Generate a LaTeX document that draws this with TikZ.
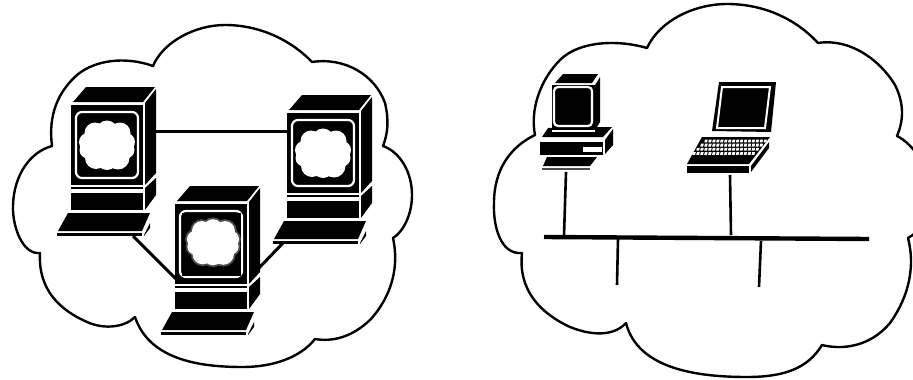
\documentclass[tikz,border=0pt]{standalone}
\newcommand{\blob}[1]{%
  \foreach \a/\b/\r in {0/-14/10.5,-12/-12/10.5,13/-12/10.5,-19/-3/9,19/-3/9,-19/5/8.5,19/5/8.5,-11/13/11,11/13/11.5,0/14/11,0/0/19}{
    \path[blobfill] (\a,\b) circle[radius=\r+#1];}}
\tikzset{
  x=1pt,y=-1pt,
  cloudline/.style={draw=black,line width=2.4pt,line cap=round,line join=miter},
  wire/.style={draw=black,line width=3pt},
  thinwire/.style={draw=black,line width=2.6pt},
  bus/.style={draw=black,line width=4.4pt},
  solid black/.style={fill=black,draw=none},
  ring/.style={draw=white,line width=2.2pt,rounded corners=6pt},
  blobfill/.style={fill=white},
  server/.pic={
    \path[solid black] (2,-3)--(15,-18)--(84,-18)--(72,-3)--cycle;
    \path[solid black] (0,0) rectangle (72,80);
    \path[solid black] (74,-2)--(85,-16)--(85,68)--(74,80)--cycle;
    \draw[ring] (5,7) rectangle (67,73);
    \path[solid black] (0,82) rectangle (72,84);
    \path[solid black] (74,83)--(85,73)--(85,90)--(74,105)--cycle;
    \path[solid black] (0,88) rectangle (72,105);
    \path[solid black] (-3,108)--(79,108)--(71,126)--(-13,126)--cycle;
    \path[solid black] (-14,128) rectangle (71,131);
    \path[solid black] (73,130)--(79,118)--(79,123)--(73,131)--cycle;
    \begin{scope}[shift={(36,40)}]\blob{0}\end{scope}
  },
  haloserver/.pic={
    \pic {server};
    \path[solid black] (6.5,8.5) rectangle (65.5,71.5);
    \begin{scope}[shift={(38,38)},scale=.93]
      \begin{scope}[blobfill/.style={fill=black!70}]\blob{2}\end{scope}
      \blob{0}
    \end{scope}
  },
  pcbox/.pic={
    \path[solid black] (10,-11)--(45,-11)--(39,-2)--(2,-2)--cycle;
    \path[solid black] (-5,43)--(59,42)--(50,52)--(-11,52)--cycle;
    \path[solid black] (-1,0) rectangle (42,45);
    \path[solid black] (44,-3)--(47,-8)--(47,37)--(42,45)--(42,0)--cycle;
    \draw[ring,rounded corners=4pt] (1,2) rectangle (39,41);
    \path[fill=white] (-1,45) rectangle (42,46.5);
    \path[solid black] (-13,57) rectangle (50,70);
    \path[fill=white] (30,62) rectangle (49,67);
    \path[solid black] (52,55)--(60,44)--(60,60)--(52,69)--cycle;
    \path[solid black] (-6,72)--(44,72)--(37,81)--(-10,81)--cycle;
    \path[fill=black!70] (-11,83) rectangle (37,85);
  },
  laptop/.pic={
    \path[solid black] (7,-5)--(64,-5)--(59,45)--(0,44)--cycle;
    \draw[draw=white,line width=2pt] (10,0)--(58,0)--(53,41)--(5,41)--cycle;
    \path[solid black] (-10,50)--(58,50)--(37,77)--(-25,77)--cycle;
    \foreach \r in {0,1,2,3}{
      \foreach \c in {0,...,15}{
        \pgfmathsetmacro{\xa}{-7+\c*3.95-\r*4.0}
        \pgfmathsetmacro{\ya}{52.5+\r*4.2}
        \path[fill=white] (\xa,\ya)--(\xa+2.8,\ya)--(\xa+2.1,\ya+2.8)--(\xa-.7,\ya+2.8)--cycle;
      }}
    \path[solid black] (-25,79) rectangle (37,86);
    \path[solid black] (39,79)--(57,55)--(57,61)--(39,85)--cycle;
  }
}
\begin{document}
\begin{tikzpicture}
\useasboundingbox (0,0) rectangle (913,380);
\clip (0,0) rectangle (913,380);
% left cloud
\draw[cloudline] (52,146) .. controls (48,115) and (58,92) .. (77,75) .. controls (95,60) and (125,56) .. (153,66);
\draw[cloudline] (153,66) .. controls (163,42) and (195,25) .. (225,25) .. controls (262,25) and (293,42) .. (312,62);
\draw[cloudline] (312,62) .. controls (345,57) and (375,75) .. (385,103) .. controls (389,120) and (388,133) .. (383,146);
\draw[cloudline] (383,146) .. controls (400,152) and (412,172) .. (412,195) .. controls (412,215) and (403,232) .. (393,238);
\draw[cloudline] (393,238) .. controls (399,265) and (393,295) .. (370,320) .. controls (352,337) and (333,342) .. (315,339);
\draw[cloudline] (315,339) .. controls (300,358) and (272,367) .. (243,367) .. controls (205,367) and (150,362) .. (135,317);
\draw[cloudline] (135,317) .. controls (125,327) and (105,330) .. (87,322) .. controls (60,310) and (38,290) .. (40,253);
\draw[cloudline] (40,253) .. controls (22,255) and (12,225) .. (13,205) .. controls (14,175) and (30,152) .. (52,146);
% right cloud
\draw[cloudline] (535,135) .. controls (530,110) and (540,80) .. (560,60) .. controls (580,40) and (620,40) .. (647,48);
\draw[cloudline] (647,48) .. controls (660,20) and (695,4) .. (727,4) .. controls (765,4) and (797,20) .. (818,43);
\draw[cloudline] (818,43) .. controls (850,38) and (880,60) .. (895,85) .. controls (905,105) and (903,122) .. (897,136);
\draw[cloudline] (897,136) .. controls (915,145) and (930,170) .. (930,195) .. controls (930,215) and (920,232) .. (908,238);
\draw[cloudline] (908,238) .. controls (915,265) and (910,295) .. (890,323) .. controls (870,347) and (842,350) .. (822,345);
\draw[cloudline] (822,345) .. controls (808,368) and (785,377) .. (747,377) .. controls (700,377) and (638,370) .. (626,323);
\draw[cloudline] (626,323) .. controls (615,335) and (595,337) .. (570,327) .. controls (540,313) and (518,290) .. (522,253);
\draw[cloudline] (522,253) .. controls (500,255) and (493,225) .. (494,203) .. controls (494,170) and (510,147) .. (535,135);
% anchors
\coordinate (srvA) at (71,105);
\coordinate (srvB) at (175,204);
\coordinate (srvC) at (287,113);
\coordinate (pc) at (553,85);
\coordinate (lap) at (712,87);
\coordinate (acE) at (156,131);
\coordinate (caW) at (287,131);
\coordinate (abS) at (133,236);
\coordinate (baW) at (176,279);
\coordinate (bcE) at (257,270);
\coordinate (cbS) at (283,243);
\coordinate (busW) at (544,237);
\coordinate (busE) at (869,239);
\coordinate (pcS) at (566,172);
\coordinate (pcB) at (564,236);
\coordinate (lapS) at (730,175);
\coordinate (lapB) at (731,235);
\coordinate (d1t) at (618,239);
\coordinate (d1b) at (617,285);
\coordinate (d2t) at (761,241);
\coordinate (d2b) at (759,287);
% connectors
\draw[wire] (acE)--(caW);
\draw[wire] (abS)--(baW);
\draw[wire] (bcE)--(cbS);
\draw[bus] (busW)--(busE);
\draw[thinwire] (pcS)--(pcB);
\draw[thinwire] (lapS)--(lapB);
\draw[thinwire] (d1t)--(d1b);
\draw[thinwire] (d2t)--(d2b);
% machines
\pic at (srvA) {server};
\pic at (srvC) {server};
\pic at (srvB) {haloserver};
\pic at (pc) {pcbox};
\pic at (lap) {laptop};
\end{tikzpicture}
\end{document}
